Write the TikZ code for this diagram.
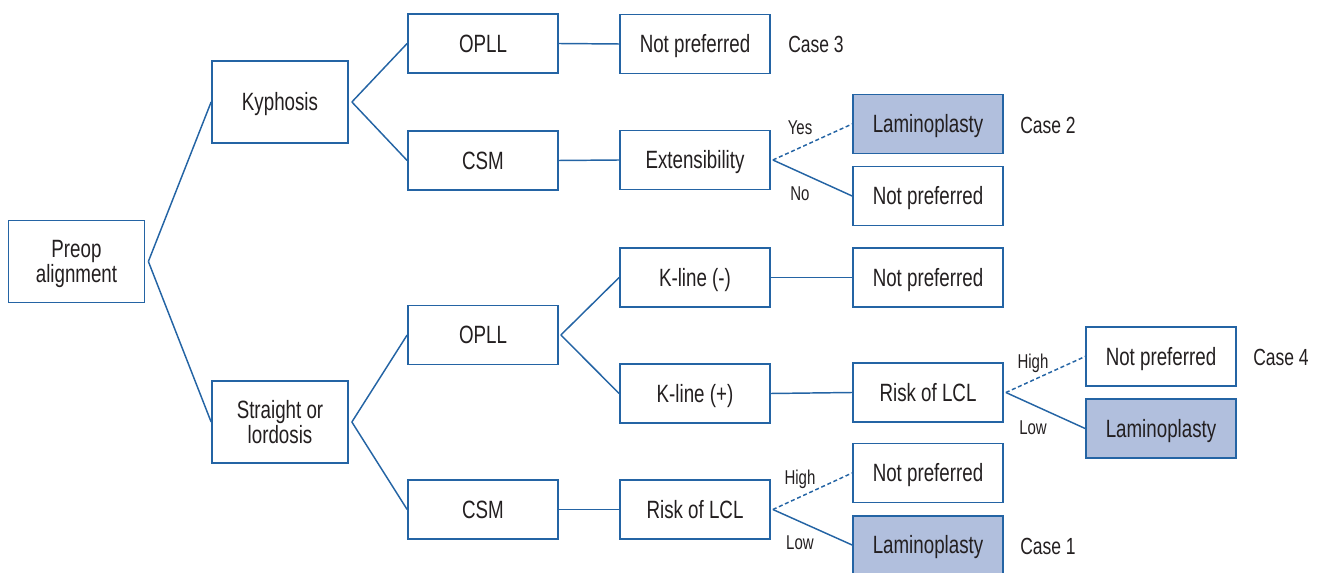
\documentclass[tikz,border=0pt]{standalone}
\usepackage{fontspec}
\setmainfont{Liberation Sans}[FakeStretch=0.75]
\definecolor{lineblue}{HTML}{2464A4}
\definecolor{boxfill}{HTML}{B1BFDD}
\definecolor{txt}{HTML}{231F20}
\begin{document}
\begin{tikzpicture}[x=0.75pt,y=-0.75pt,
  box/.style={draw=lineblue,line width=1.3pt,fill=white,text=txt,inner sep=0pt,
    minimum width=112.5pt,minimum height=44.25pt,align=center,
    text height=13.4pt,text depth=0pt,
    font=\fontsize{18.75}{18.75}\selectfont},
  bigbox/.style={box,minimum width=102pt,minimum height=61.5pt},
  twoline/.style={text height=32.15pt},
  hl/.style={fill=boxfill},
  conn/.style={draw=lineblue,line width=1.1pt},
  dconn/.style={conn,dash pattern=on 3pt off 2pt},
  lbl/.style={text=txt,inner sep=0pt,text height=10.7pt,text depth=0pt,font=\fontsize{15}{15}\selectfont},
  caselbl/.style={text=txt,inner sep=0pt,text height=12.5pt,text depth=0pt,font=\fontsize{17.5}{17.5}\selectfont}]
\useasboundingbox (0,0) rectangle (1322,573);
% boxes
\node[bigbox,twoline] (preop) at (76.5,261.5) {Preop\\alignment};
\node[bigbox] (kyph) at (280,102) {Kyphosis};
\node[bigbox,twoline] (strt) at (280,422) {Straight or\\lordosis};
\node[box] (opll1) at (483,43.5) {OPLL};
\node[box] (csm1) at (483,160.5) {CSM};
\node[box] (np1) at (695,44) {Not preferred};
\node[box] (ext) at (695,160) {Extensibility};
\node[box,hl] (lam2) at (928,124) {Laminoplasty};
\node[box] (np2) at (928,196) {Not preferred};
\node[box] (opll2) at (483,335) {OPLL};
\node[box] (csm2) at (483,509.5) {CSM};
\node[box] (kminus) at (695,277.5) {K-line (-)};
\node[box] (kplus) at (695,393.5) {K-line (+)};
\node[box] (risk2) at (695,509.5) {Risk of LCL};
\node[box] (np3) at (928,277.5) {Not preferred};
\node[box] (risk1) at (928,392.5) {Risk of LCL};
\node[box] (np4) at (1161,356.5) {Not preferred};
\node[box,hl] (lam4) at (1161,428.5) {Laminoplasty};
\node[box] (np5) at (928,473) {Not preferred};
\node[box,hl,minimum height=43.5pt] (lam1) at (928,545) {Laminoplasty};
% connectors
\draw[conn] ([xshift=2.25pt]preop.east) -- (kyph.west);
\draw[conn] ([xshift=2.25pt]preop.east) -- (strt.west);
\draw[conn] ([xshift=2.25pt]kyph.east) -- (opll1.west);
\draw[conn] ([xshift=2.25pt]kyph.east) -- (csm1.west);
\draw[conn] ([xshift=2.25pt]strt.east) -- (opll2.west);
\draw[conn] ([xshift=2.25pt]strt.east) -- (csm2.west);
\draw[conn] (opll1.east) -- (np1.west);
\draw[conn] (csm1.east) -- (ext.west);
\draw[conn] ([xshift=1.5pt]opll2.east) -- (kminus.west);
\draw[conn] ([xshift=1.5pt]opll2.east) -- (kplus.west);
\draw[conn] (kminus.east) -- (np3.west);
\draw[conn] (kplus.east) -- (risk1.west);
\draw[conn] (csm2.east) -- (risk2.west);
\draw[dconn] ([xshift=1.5pt]ext.east) -- (lam2.west);
\draw[conn] ([xshift=1.5pt]ext.east) -- (np2.west);
\draw[dconn] ([xshift=1.5pt]risk1.east) -- (np4.west);
\draw[conn] ([xshift=1.5pt]risk1.east) -- (lam4.west);
\draw[dconn] ([xshift=1.5pt]risk2.east) -- (np5.west);
\draw[conn] ([xshift=1.5pt]risk2.east) -- (lam1.west);
% branch labels
\node[lbl] (yes) at (800,127) {Yes};
\node[lbl] (no) at (800,193) {No};
\node[lbl] (high1) at (1033,361) {High};
\node[lbl] (low1) at (1033,427) {Low};
\node[lbl] (high2) at (800,477) {High};
\node[lbl] (low2) at (800,542) {Low};
% case labels
\node[caselbl] (c3) at (816,44) {Case 3};
\node[caselbl] (c2) at (1048,125) {Case 2};
\node[caselbl] (c4) at (1281,357) {Case 4};
\node[caselbl] (c1) at (1048,546) {Case 1};
\end{tikzpicture}
\end{document}
